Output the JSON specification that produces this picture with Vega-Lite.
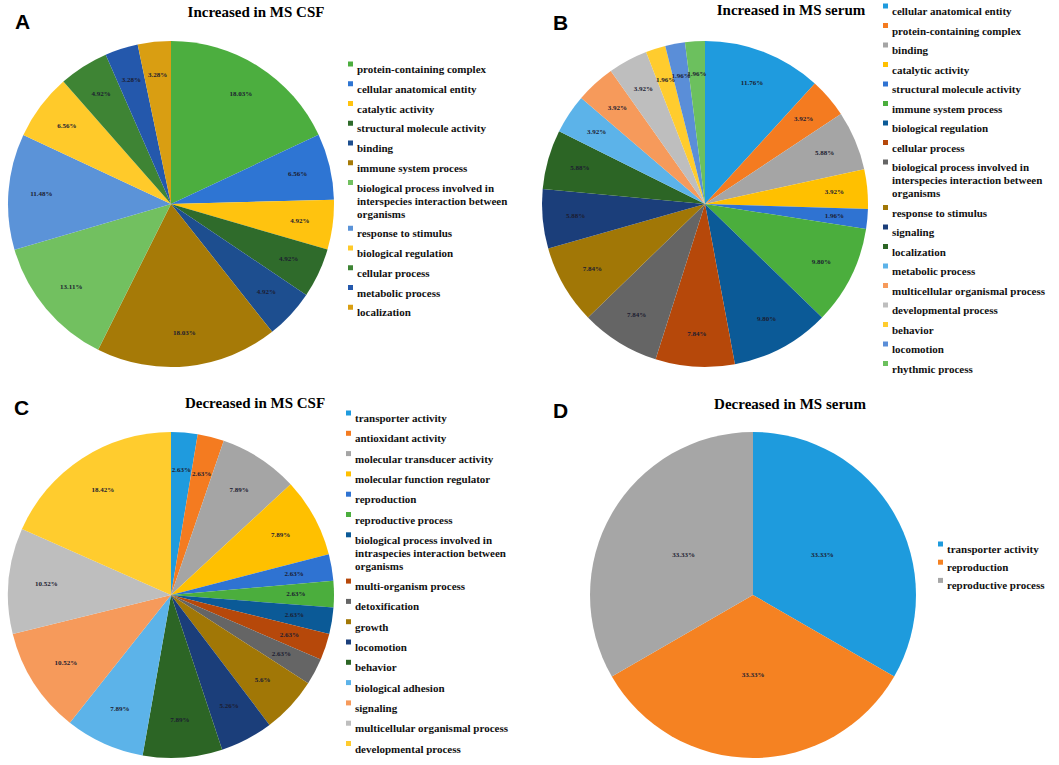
{
  "$schema": "https://vega.github.io/schema/vega-lite/v6.json",
  "background": "white",
  "padding": {"left": 6, "top": 0, "right": 0, "bottom": 0},
  "datasets": {
    "A": [
      {"o": 1, "cat": "protein-containing complex", "v": 18.03, "label": "18.03%"},
      {"o": 2, "cat": "cellular anatomical entity", "v": 6.56, "label": "6.56%"},
      {"o": 3, "cat": "catalytic activity", "v": 4.92, "label": "4.92%"},
      {"o": 4, "cat": "structural molecule activity", "v": 4.92, "label": "4.92%"},
      {"o": 5, "cat": "binding", "v": 4.92, "label": "4.92%"},
      {"o": 6, "cat": "immune system process", "v": 18.03, "label": "18.03%"},
      {"o": 7, "cat": "biological process involved in interspecies interaction between organisms", "v": 13.11, "label": "13.11%"},
      {"o": 8, "cat": "response to stimulus", "v": 11.48, "label": "11.48%"},
      {"o": 9, "cat": "biological regulation", "v": 6.56, "label": "6.56%"},
      {"o": 10, "cat": "cellular process", "v": 4.92, "label": "4.92%"},
      {"o": 11, "cat": "metabolic process", "v": 3.28, "label": "3.28%"},
      {"o": 12, "cat": "localization", "v": 3.28, "label": "3.28%"}
    ],
    "B": [
      {"o": 1, "cat": "cellular anatomical entity", "v": 11.76, "label": "11.76%"},
      {"o": 2, "cat": "protein-containing complex", "v": 3.92, "label": "3.92%"},
      {"o": 3, "cat": "binding", "v": 5.88, "label": "5.88%"},
      {"o": 4, "cat": "catalytic activity", "v": 3.92, "label": "3.92%"},
      {"o": 5, "cat": "structural molecule activity", "v": 1.96, "label": "1.96%"},
      {"o": 6, "cat": "immune system process", "v": 9.80, "label": "9.80%"},
      {"o": 7, "cat": "biological regulation", "v": 9.80, "label": "9.80%"},
      {"o": 8, "cat": "cellular process", "v": 7.84, "label": "7.84%"},
      {"o": 9, "cat": "biological process involved in interspecies interaction between organisms", "v": 7.84, "label": "7.84%"},
      {"o": 10, "cat": "response to stimulus", "v": 7.84, "label": "7.84%"},
      {"o": 11, "cat": "signaling", "v": 5.88, "label": "5.88%"},
      {"o": 12, "cat": "localization", "v": 5.88, "label": "5.88%"},
      {"o": 13, "cat": "metabolic process", "v": 3.92, "label": "3.92%"},
      {"o": 14, "cat": "multicellular organismal process", "v": 3.92, "label": "3.92%"},
      {"o": 15, "cat": "developmental process", "v": 3.92, "label": "3.92%"},
      {"o": 16, "cat": "behavior", "v": 1.96, "label": "1.96%"},
      {"o": 17, "cat": "locomotion", "v": 1.96, "label": "1.96%"},
      {"o": 18, "cat": "rhythmic process", "v": 1.96, "label": "1.96%"}
    ],
    "C": [
      {"o": 1, "cat": "transporter activity", "v": 2.63, "label": "2.63%"},
      {"o": 2, "cat": "antioxidant activity", "v": 2.63, "label": "2.63%"},
      {"o": 3, "cat": "molecular transducer activity", "v": 7.89, "label": "7.89%"},
      {"o": 4, "cat": "molecular function regulator", "v": 7.89, "label": "7.89%"},
      {"o": 5, "cat": "reproduction", "v": 2.63, "label": "2.63%"},
      {"o": 6, "cat": "reproductive process", "v": 2.63, "label": "2.63%"},
      {"o": 7, "cat": "biological process involved in intraspecies interaction between organisms", "v": 2.63, "label": "2.63%"},
      {"o": 8, "cat": "multi-organism process", "v": 2.63, "label": "2.63%"},
      {"o": 9, "cat": "detoxification", "v": 2.63, "label": "2.63%"},
      {"o": 10, "cat": "growth", "v": 5.6, "label": "5.6%"},
      {"o": 11, "cat": "locomotion", "v": 5.26, "label": "5.26%"},
      {"o": 12, "cat": "behavior", "v": 7.89, "label": "7.89%"},
      {"o": 13, "cat": "biological adhesion", "v": 7.89, "label": "7.89%"},
      {"o": 14, "cat": "signaling", "v": 10.52, "label": "10.52%"},
      {"o": 15, "cat": "multicellular organismal process", "v": 10.52, "label": "10.52%"},
      {"o": 16, "cat": "developmental process", "v": 18.42, "label": "18.42%"}
    ],
    "D": [
      {"o": 1, "cat": "transporter activity", "v": 33.33, "label": "33.33%"},
      {"o": 2, "cat": "reproduction", "v": 33.33, "label": "33.33%"},
      {"o": 3, "cat": "reproductive process", "v": 33.33, "label": "33.33%"}
    ]
  },
  "bounds": "flush",
  "spacing": 391,
  "resolve": {"scale": {"color": "independent"}, "legend": {"color": "independent"}},
  "vconcat": [
    {
      "bounds": "flush",
      "spacing": 534,
      "resolve": {"scale": {"color": "independent"}, "legend": {"color": "independent"}},
      "hconcat": [
        {
          "title": {"text": "A", "anchor": "start", "frame": "group", "font": "Liberation Sans", "fontSize": 21, "fontWeight": "bold", "color": "#000", "offset": -45, "dx": 9, "baseline": "alphabetic"},
          "resolve": {"scale": {"color": "independent"}, "legend": {"color": "independent"}},
          "vconcat": [
            {
              "width": 330, "height": 330,
              "data": {"name": "A"},
              "title": {"text": "Increased in MS CSF", "anchor": "middle", "frame": "group", "dx": 85, "offset": 7, "baseline": "alphabetic", "fontSize": 15},
              "encoding": {
                "theta": {"field": "v", "type": "quantitative", "stack": true},
                "order": {"field": "o", "type": "quantitative"}
              },
              "layer": [
                {
                  "mark": {"type": "arc", "outerRadius": 163},
                  "encoding": {
                    "color": {
                      "field": "cat", "type": "nominal",
                      "scale": {
                        "domain": ["protein-containing complex", "cellular anatomical entity", "catalytic activity", "structural molecule activity", "binding", "immune system process", "biological process involved in interspecies interaction between organisms", "response to stimulus", "biological regulation", "cellular process", "metabolic process", "localization"],
                        "range": ["#4CAE3F", "#2E75D3", "#FFC30F", "#2F6B2B", "#1D4E8F", "#A67A07", "#72C060", "#5B93D8", "#FFCA2A", "#3E8434", "#2458AC", "#D99E12"]
                      },
                      "legend": {"legendX": 339, "legendY": 19.5, "rowPadding": 2.75,
                        "labelExpr": "datum.label == 'biological process involved in interspecies interaction between organisms' ? ['biological process involved in', 'interspecies interaction between', 'organisms'] : datum.label"}
                    }
                  }
                },
                {
                  "mark": {"type": "text", "radius": 130, "font": "Liberation Serif", "fontSize": 7, "fontWeight": "bold", "color": "#1c1c30"},
                  "encoding": {"text": {"field": "label"}, "detail": {"field": "cat"}}
                }
              ]
            }
          ]
        },
        {
          "title": {"text": "B", "anchor": "start", "frame": "group", "font": "Liberation Sans", "fontSize": 21, "fontWeight": "bold", "color": "#000", "offset": -50, "dx": 13, "baseline": "alphabetic"},
          "resolve": {"scale": {"color": "independent"}, "legend": {"color": "independent"}},
          "vconcat": [
            {
              "width": 330, "height": 330,
              "data": {"name": "B"},
              "title": {"text": "Increased in MS serum", "anchor": "middle", "frame": "group", "dx": 86, "offset": -29.5, "baseline": "alphabetic", "fontSize": 15},
              "encoding": {
                "theta": {"field": "v", "type": "quantitative", "stack": true},
                "order": {"field": "o", "type": "quantitative"}
              },
              "layer": [
                {
                  "mark": {"type": "arc", "outerRadius": 163},
                  "encoding": {
                    "color": {
                      "field": "cat", "type": "nominal",
                      "scale": {
                        "domain": ["cellular anatomical entity", "protein-containing complex", "binding", "catalytic activity", "structural molecule activity", "immune system process", "biological regulation", "cellular process", "biological process involved in interspecies interaction between organisms", "response to stimulus", "signaling", "localization", "metabolic process", "multicellular organismal process", "developmental process", "behavior", "locomotion", "rhythmic process"],
                        "range": ["#1F9BDE", "#F47B20", "#A5A5A5", "#FFC000", "#2F73D2", "#4BAE3D", "#0B5A97", "#B6480A", "#656565", "#A17706", "#1B3E7A", "#2C6525", "#5CB3E9", "#F69A5B", "#BEBEBE", "#FFCC2E", "#5A8ED8", "#6CC05E"]
                      },
                      "legend": {"legendX": 340, "legendY": -38.5, "rowPadding": 2.5,
                        "labelExpr": "datum.label == 'biological process involved in interspecies interaction between organisms' ? ['biological process involved in', 'interspecies interaction between', 'organisms'] : datum.label"}
                    }
                  }
                },
                {
                  "mark": {"type": "text", "radius": 130, "font": "Liberation Serif", "fontSize": 7, "fontWeight": "bold", "color": "#1c1c30"},
                  "encoding": {"text": {"field": "label"}, "detail": {"field": "cat"}}
                }
              ]
            }
          ]
        }
      ]
    },
    {
      "bounds": "flush",
      "spacing": 582,
      "resolve": {"scale": {"color": "independent"}, "legend": {"color": "independent"}},
      "hconcat": [
        {
          "title": {"text": "C", "anchor": "start", "frame": "group", "font": "Liberation Sans", "fontSize": 21, "fontWeight": "bold", "color": "#000", "offset": -40.5, "dx": 8, "baseline": "alphabetic"},
          "resolve": {"scale": {"color": "independent"}, "legend": {"color": "independent"}},
          "vconcat": [
            {
              "width": 330, "height": 330,
              "data": {"name": "C"},
              "title": {"text": "Decreased in MS CSF", "anchor": "middle", "frame": "group", "dx": 84, "offset": -15, "baseline": "alphabetic", "fontSize": 15},
              "encoding": {
                "theta": {"field": "v", "type": "quantitative", "stack": true},
                "order": {"field": "o", "type": "quantitative"}
              },
              "layer": [
                {
                  "mark": {"type": "arc", "outerRadius": 163},
                  "encoding": {
                    "color": {
                      "field": "cat", "type": "nominal",
                      "scale": {
                        "domain": ["transporter activity", "antioxidant activity", "molecular transducer activity", "molecular function regulator", "reproduction", "reproductive process", "biological process involved in intraspecies interaction between organisms", "multi-organism process", "detoxification", "growth", "locomotion", "behavior", "biological adhesion", "signaling", "multicellular organismal process", "developmental process"],
                        "range": ["#1F9BDE", "#F47B20", "#A5A5A5", "#FFC000", "#2F73D2", "#4BAE3D", "#0B5A97", "#B6480A", "#656565", "#A17706", "#1B3E7A", "#2C6525", "#5CB3E9", "#F69A5B", "#BEBEBE", "#FFCC2E"]
                      },
                      "legend": {"legendX": 337, "legendY": -22.5, "rowPadding": 3.3,
                        "labelExpr": "datum.label == 'biological process involved in intraspecies interaction between organisms' ? ['biological process involved in', 'intraspecies interaction between', 'organisms'] : datum.label"}
                    }
                  }
                },
                {
                  "mark": {"type": "text", "radius": 125, "font": "Liberation Serif", "fontSize": 7, "fontWeight": "bold", "color": "#1c1c30"},
                  "encoding": {"text": {"field": "label"}, "detail": {"field": "cat"}}
                }
              ]
            }
          ]
        },
        {
          "title": {"text": "D", "anchor": "start", "frame": "group", "font": "Liberation Sans", "fontSize": 21, "fontWeight": "bold", "color": "#000", "offset": -42.5, "dx": -35, "baseline": "alphabetic"},
          "resolve": {"scale": {"color": "independent"}, "legend": {"color": "independent"}},
          "vconcat": [
            {
              "width": 330, "height": 330,
              "data": {"name": "D"},
              "title": {"text": "Decreased in MS serum", "anchor": "middle", "frame": "group", "dx": 37, "offset": 6.5, "baseline": "alphabetic", "fontSize": 15},
              "encoding": {
                "theta": {"field": "v", "type": "quantitative", "stack": true},
                "order": {"field": "o", "type": "quantitative"}
              },
              "layer": [
                {
                  "mark": {"type": "arc", "outerRadius": 163},
                  "encoding": {
                    "color": {
                      "field": "cat", "type": "nominal",
                      "scale": {
                        "domain": ["transporter activity", "reproduction", "reproductive process"],
                        "range": ["#1E9BDD", "#F58222", "#A6A6A6"]
                      },
                      "legend": {"legendX": 347, "legendY": 108.5, "rowPadding": 1.2}
                    }
                  }
                },
                {
                  "mark": {"type": "text", "radius": 80, "font": "Liberation Serif", "fontSize": 7, "fontWeight": "bold", "color": "#1c1c30"},
                  "encoding": {"text": {"field": "label"}, "detail": {"field": "cat"}}
                }
              ]
            }
          ]
        }
      ]
    }
  ],
  "config": {
    "view": {"stroke": null},
    "arc": {"stroke": null},
    "title": {"font": "Liberation Serif", "fontWeight": "bold", "color": "#000"},
    "legend": {
      "orient": "none",
      "title": null,
      "padding": 0,
      "symbolType": "square",
      "symbolSize": 25,
      "symbolStrokeWidth": 0,
      "symbolOpacity": 1,
      "labelFont": "Liberation Serif",
      "labelFontSize": 11,
      "labelFontWeight": "bold",
      "labelColor": "#111",
      "labelLimit": 500,
      "labelOffset": 1,
      "labelBaseline": "top",
      "encode": {"labels": {"update": {"dy": {"value": -5.5}, "lineHeight": {"value": 12.5}}}}
    }
  }
}
